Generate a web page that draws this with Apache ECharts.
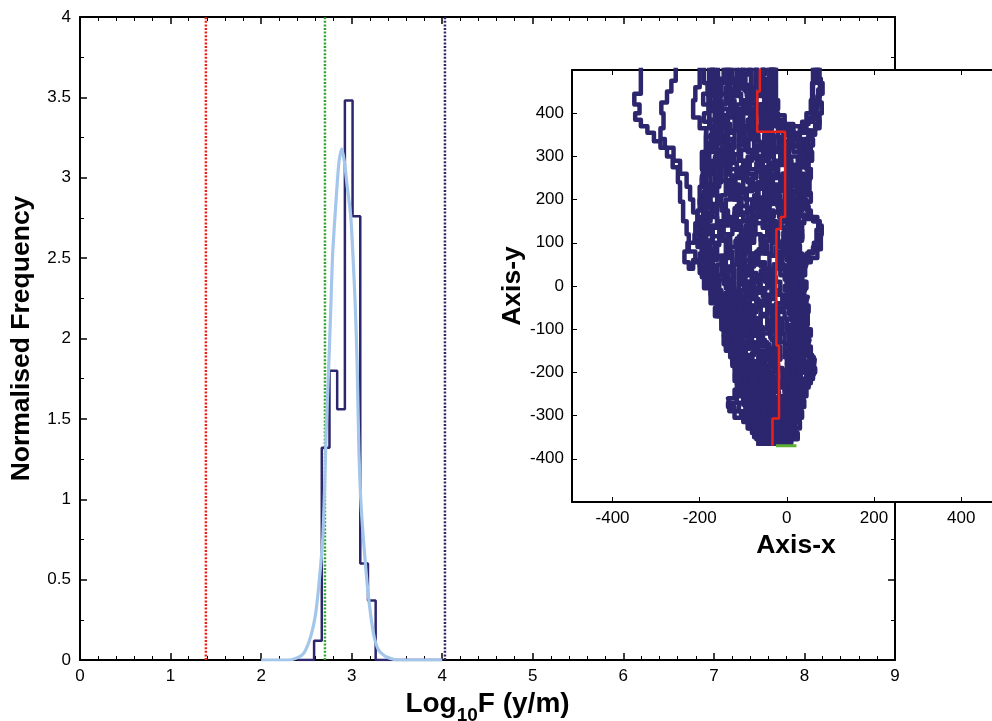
<!DOCTYPE html>
<html><head><meta charset="utf-8">
<script src="https://cdn.jsdelivr.net/npm/echarts@6/dist/echarts.min.js"></script>
<style>html,body{margin:0;padding:0;background:#fff}#c{width:992px;height:721px}</style>
</head><body><div id="c"></div>
<script>
// ---- main histogram data ----
const binEdges = [2.585, 2.67, 2.755, 2.84, 2.925, 3.01, 3.095, 3.18, 3.265];
const binValues = [0.12, 1.32, 1.80, 1.56, 3.48, 2.76, 0.60, 0.37];
const histZeroRange = [2.4, 4.0];
const fitCurve = [[2.0,0],[2.3,0],[2.38,0.01],[2.45,0.03],[2.49,0.06],[2.55,0.15],[2.6,0.28],[2.64,0.48],[2.68,0.75],[2.7,1.05],[2.72,1.45],[2.745,1.8],[2.77,2.2],[2.79,2.53],[2.83,2.88],[2.86,3.1],[2.89,3.18],[2.92,3.1],[2.95,2.95],[2.99,2.76],[3.02,2.45],[3.04,2.2],[3.06,1.85],[3.08,1.3],[3.1,1.0],[3.13,0.75],[3.17,0.48],[3.21,0.28],[3.25,0.14],[3.3,0.06],[3.38,0.02],[3.5,0],[4.0,0]];
const refLineX = [1.39, 2.705, 4.03];
const xTicksMain = [0, 9, 1];
const yTicksMain = [0, 4, 0.5];

// ---- inset random-walk paths (corner points, step: start) ----
const walkPaths = [
 [[-45,-370],[-55,-345],[-70,-320],[-90,-290],[-100,-250],[-115,-215],[-125,-175],[-140,-140],[-150,-100],[-160,-70],[-175,-40],[-190,-5],[-200,30],[-210,55],[-225,80],[-230,120],[-238,150],[-245,195],[-250,240],[-262,275],[-275,300],[-290,320],[-305,335],[-320,355],[-335,370],[-348,385],[-338,400],[-350,420],[-335,445],[-337,520]],
 [[-30,-370],[-50,-340],[-65,-300],[-85,-260],[-100,-220],[-115,-180],[-128,-130],[-140,-90],[-155,-50],[-170,-10],[-185,20],[-195,60],[-200,100],[-205,140],[-215,170],[-222,200],[-230,230],[-245,260],[-260,290],[-280,320],[-290,340],[-283,365],[-288,400],[-275,425],[-265,450],[-255,475],[-253,520]],
 [[-20,-370],[-35,-330],[-55,-290],[-75,-250],[-90,-210],[-110,-170],[-120,-130],[-135,-90],[-150,-50],[-165,-15],[-178,20],[-190,60],[-185,110],[-192,160],[-186,210],[-193,260],[-186,300],[-185,345],[-200,365],[-215,390],[-210,430],[-200,460],[-202,520]],
 [[-60,-370],[-75,-350],[-90,-330],[-105,-300],[-120,-290],[-135,-280],[-115,-270],[-105,-240],[-115,-210],[-125,-180],[-120,-150],[-135,-120],[-145,-90],[-150,-60],[-165,-30],[-180,0],[-175,40],[-190,80],[-180,120],[-190,170],[-175,220],[-183,270],[-170,320],[-178,370],[-165,420],[-170,470],[-165,520]],
 [[-50,-370],[-65,-340],[-80,-300],[-90,-270],[-100,-230],[-95,-200],[-110,-170],[-115,-130],[-125,-100],[-140,-70],[-150,-40],[-160,-10],[-170,20],[-160,60],[-172,100],[-160,140],[-175,180],[-165,230],[-178,280],[-160,330],[-150,380],[-155,430],[-145,480],[-150,520]],
 [[-40,-370],[-55,-330],[-75,-310],[-85,-280],[-75,-250],[-90,-220],[-100,-190],[-95,-160],[-110,-130],[-120,-100],[-130,-60],[-125,-30],[-140,0],[-150,30],[-140,70],[-155,110],[-145,150],[-160,190],[-150,240],[-162,290],[-140,330],[-148,370],[-130,410],[-135,460],[-125,520]],
 [[-35,-370],[-45,-340],[-60,-310],[-70,-270],[-85,-240],[-80,-200],[-95,-170],[-105,-140],[-100,-110],[-115,-80],[-110,-50],[-120,-20],[-135,10],[-125,45],[-135,80],[-125,120],[-140,160],[-130,200],[-140,245],[-125,285],[-135,325],[-115,360],[-125,400],[-110,440],[-115,480],[-105,520]],
 [[-25,-370],[-40,-350],[-50,-320],[-55,-280],[-70,-250],[-65,-220],[-80,-190],[-75,-160],[-90,-130],[-85,-100],[-100,-70],[-95,-40],[-110,-10],[-100,20],[-115,50],[-105,90],[-120,130],[-108,170],[-118,210],[-100,250],[-110,290],[-95,330],[-105,370],[-90,410],[-95,450],[-85,490],[-88,520]],
 [[-15,-370],[-25,-340],[-35,-300],[-45,-270],[-40,-240],[-55,-210],[-50,-180],[-65,-150],[-60,-120],[-75,-90],[-70,-60],[-85,-30],[-80,0],[-95,30],[-85,60],[-95,100],[-80,140],[-92,180],[-78,220],[-90,260],[-75,300],[-85,340],[-70,380],[-80,420],[-72,460],[-78,520]],
 [[-10,-370],[0,-340],[10,-310],[5,-280],[15,-250],[25,-230],[20,-200],[30,-170],[25,-140],[35,-110],[28,-80],[38,-50],[25,-20],[30,10],[20,40],[28,80],[15,120],[25,160],[10,200],[20,240],[5,280],[15,320],[-5,350],[-25,380],[-30,420],[-35,460],[-32,520]],
 [[-5,-370],[5,-330],[15,-300],[25,-270],[35,-240],[45,-215],[60,-200],[58,-180],[45,-160],[40,-130],[30,-100],[40,-70],[35,-40],[25,-10],[30,20],[40,45],[55,55],[70,65],[78,85],[80,110],[72,135],[60,150],[45,155],[30,165],[40,200],[35,230],[50,260],[45,300],[30,330],[15,350],[-10,365],[-28,385],[-35,420],[-30,460],[-38,520]],
 [[-20,-370],[-10,-345],[0,-320],[10,-290],[5,-260],[15,-230],[10,-200],[25,-175],[20,-145],[30,-115],[15,-85],[25,-55],[10,-25],[18,5],[8,35],[15,70],[5,110],[20,140],[10,180],[25,215],[15,250],[35,280],[50,310],[55,345],[40,360],[50,375],[60,390],[70,410],[76,440],[70,470],[74,520]],
 [[-30,-370],[-20,-340],[-10,-300],[0,-270],[-5,-240],[5,-210],[0,-180],[10,-150],[5,-120],[15,-90],[5,-60],[15,-30],[0,0],[10,30],[0,60],[10,95],[0,130],[12,170],[0,210],[10,250],[-5,290],[5,330],[25,345],[45,355],[60,380],[65,400],[58,430],[65,470],[62,520]],
 [[-45,-370],[-35,-340],[-45,-310],[-35,-280],[-50,-250],[-40,-220],[-55,-190],[-45,-160],[-60,-130],[-45,-100],[-60,-70],[-50,-40],[-65,-10],[-55,20],[-70,50],[-60,80],[-72,120],[-55,160],[-68,200],[-55,240],[-68,280],[-50,320],[-60,360],[-45,400],[-55,440],[-40,480],[-45,520]],
 [[-55,-370],[-45,-350],[-30,-320],[-20,-290],[-30,-260],[-20,-230],[-30,-200],[-15,-170],[-25,-140],[-10,-110],[-20,-80],[-5,-50],[-15,-20],[-30,10],[-20,40],[-35,70],[-25,110],[-40,150],[-30,190],[-42,230],[-30,270],[-45,310],[-35,350],[-50,390],[-40,430],[-55,470],[-50,520]],
 [[-65,-370],[-80,-340],[-70,-310],[-85,-280],[-75,-250],[-90,-220],[-80,-190],[-95,-160],[-85,-130],[-100,-100],[-90,-70],[-105,-40],[-95,-10],[-110,20],[-100,50],[-115,80],[-105,110],[-120,145],[-110,180],[-125,215],[-115,250],[-130,285],[-120,320],[-135,355],[-125,390],[-140,425],[-130,460],[-140,520]],
 [[-35,-370],[-25,-350],[-40,-320],[-30,-290],[-45,-260],[-35,-230],[-50,-200],[-40,-170],[-55,-140],[-40,-110],[-30,-80],[-45,-50],[-35,-20],[-50,10],[-40,40],[-50,75],[-40,105],[-50,140],[-40,175],[-52,210],[-42,250],[-55,290],[-42,330],[-55,370],[-45,410],[-60,450],[-50,490],[-60,520]],
 [[-10,-370],[-20,-340],[-5,-315],[-15,-285],[0,-255],[-10,-225],[5,-195],[-5,-165],[10,-135],[0,-105],[12,-75],[0,-45],[10,-15],[-5,15],[5,45],[-10,75],[0,105],[-15,135],[-5,165],[-20,195],[-10,225],[-25,255],[-15,285],[-28,315],[-20,345],[-30,375],[-25,420],[-30,460],[-28,520]],
 [[-15,-370],[0,-350],[15,-330],[10,-300],[25,-275],[20,-250],[35,-230],[50,-215],[62,-205],[64,-185],[55,-170],[42,-150],[45,-120],[35,-90],[40,-60],[30,-30],[35,0],[22,30],[30,60],[45,70],[60,75],[75,90],[80,120],[75,140],[62,150],[50,160],[40,185],[45,220],[30,250],[40,290],[25,320],[30,350],[15,370],[-5,375],[-30,395],[-35,440],[-32,520]],
 [[-50,-370],[-70,-355],[-85,-330],[-100,-315],[-120,-305],[-132,-290],[-135,-270],[-120,-260],[-110,-240],[-100,-215],[-112,-190],[-105,-165],[-120,-140],[-110,-115],[-128,-85],[-118,-55],[-135,-25],[-125,5],[-145,35],[-130,70],[-148,105],[-135,140],[-150,175],[-140,210],[-155,245],[-145,280],[-160,315],[-150,350],[-165,385],[-155,420],[-165,455],[-160,520]],
 [[-40,-370],[-30,-345],[-50,-320],[-60,-290],[-50,-260],[-65,-235],[-75,-205],[-65,-175],[-80,-145],[-95,-115],[-85,-85],[-100,-55],[-120,-30],[-140,-5],[-160,15],[-180,30],[-200,45],[-215,60],[-225,40],[-235,55],[-228,80],[-212,100],[-200,120],[-190,150],[-200,190],[-185,230],[-195,270],[-175,310],[-165,350],[-160,400],[-172,440],[-168,520]],
 [[-25,-370],[-15,-335],[-28,-305],[-18,-275],[-30,-245],[-20,-210],[-35,-180],[-25,-150],[-38,-120],[-25,-90],[-40,-60],[-28,-30],[-40,0],[-30,30],[-10,50],[5,80],[20,100],[10,130],[-5,160],[-18,190],[-8,220],[-20,250],[-5,280],[-18,310],[-8,340],[-20,370],[-30,400],[-40,440],[-35,470],[-38,520]],
 [[-5,-370],[10,-340],[0,-310],[18,-280],[8,-250],[22,-220],[12,-190],[28,-160],[18,-130],[32,-100],[20,-70],[30,-40],[15,-10],[25,20],[12,50],[22,90],[35,110],[28,140],[15,170],[35,190],[52,210],[55,240],[48,270],[55,300],[40,320],[50,340],[35,360],[45,380],[55,400],[60,430],[58,520]],
 [[-30,-370],[-50,-355],[-60,-330],[-45,-315],[-60,-300],[-75,-325],[-90,-300],[-80,-270],[-95,-245],[-85,-215],[-70,-230],[-60,-200],[-75,-175],[-90,-190],[-100,-160],[-90,-130],[-110,-110],[-100,-80],[-120,-60],[-110,-35],[-130,-15],[-120,15],[-140,40],[-125,65],[-110,50],[-100,80],[-118,105],[-130,90],[-145,120],[-130,150],[-115,140],[-105,175],[-125,200],[-115,230],[-100,215],[-95,250],[-115,270],[-130,255],[-140,290],[-125,320],[-110,305],[-100,340],[-120,365],[-110,395],[-130,410],[-120,445],[-135,470],[-130,520]],
 [[-20,-370],[-5,-350],[-15,-325],[0,-305],[-10,-280],[5,-260],[15,-285],[25,-260],[10,-240],[20,-215],[35,-200],[25,-180],[40,-165],[30,-140],[15,-155],[5,-130],[20,-105],[35,-120],[45,-95],[30,-75],[15,-90],[5,-65],[20,-40],[35,-55],[40,-25],[25,-5],[10,-20],[0,10],[15,30],[30,15],[35,45],[20,65],[5,50],[-5,80],[10,100],[25,85],[30,120],[15,145],[0,125],[-10,155],[5,180],[20,165],[30,195],[15,220],[0,205],[-10,235],[5,260],[20,245],[25,280],[10,300],[-5,285],[-15,315],[0,335],[10,320],[15,350],[-10,360],[-40,375],[-50,400],[-40,430],[-55,460],[-48,520]],
 [[-45,-370],[-60,-350],[-50,-330],[-65,-315],[-55,-290],[-70,-270],[-60,-245],[-75,-225],[-65,-200],[-80,-180],[-70,-155],[-85,-135],[-75,-110],[-90,-90],[-80,-65],[-95,-45],[-85,-20],[-100,0],[-90,25],[-105,45],[-95,70],[-110,90],[-100,115],[-85,100],[-75,130],[-90,155],[-80,180],[-95,200],[-85,225],[-100,245],[-90,270],[-105,290],[-95,315],[-110,335],[-100,360],[-115,380],[-100,400],[-90,430],[-100,455],[-95,520]],
 [[-10,-370],[5,-355],[20,-340],[15,-310],[30,-295],[25,-265],[40,-250],[50,-235],[45,-210],[30,-190],[20,-165],[35,-150],[45,-130],[38,-110],[48,-90],[40,-65],[25,-50],[35,-30],[42,-10],[30,10],[38,30],[25,50],[35,70],[50,60],[62,80],[68,100],[75,130],[70,150],[55,160],[45,175],[55,195],[48,215],[38,235],[48,255],[40,275],[52,295],[45,315],[35,330],[20,340],[5,355],[-15,365],[-30,380],[-20,410],[-40,430],[-25,460],[-30,520]],
 [[-55,-370],[-70,-340],[-60,-320],[-80,-300],[-95,-285],[-85,-265],[-100,-250],[-110,-230],[-100,-205],[-115,-185],[-130,-165],[-120,-145],[-135,-125],[-125,-100],[-140,-80],[-155,-60],[-145,-40],[-160,-20],[-175,-5],[-165,20],[-180,40],[-170,60],[-185,85],[-200,100],[-190,130],[-205,150],[-195,175],[-180,190],[-170,215],[-185,235],[-170,260],[-160,290],[-175,310],[-160,335],[-150,360],[-160,390],[-175,410],[-180,440],[-170,470],[-175,520]],
 [[-35,-370],[-20,-355],[-35,-335],[-20,-320],[-30,-300],[-45,-285],[-35,-265],[-20,-245],[-35,-225],[-45,-205],[-30,-185],[-40,-165],[-25,-145],[-35,-125],[-20,-105],[-35,-85],[-25,-65],[-40,-45],[-55,-25],[-45,-5],[-60,15],[-50,35],[-65,55],[-45,75],[-55,95],[-40,115],[-55,135],[-45,155],[-60,175],[-45,195],[-35,215],[-50,235],[-40,255],[-55,275],[-40,295],[-30,315],[-45,335],[-35,355],[-45,375],[-60,395],[-70,420],[-60,445],[-68,470],[-65,520]],
 [[-20,-370],[-5,-345],[5,-320],[-5,-295],[5,-270],[-5,-245],[10,-225],[0,-200],[15,-180],[5,-160],[20,-140],[10,-120],[25,-100],[10,-80],[20,-60],[5,-40],[15,-20],[0,0],[15,20],[5,40],[18,60],[8,80],[20,100],[30,125],[20,150],[35,175],[25,200],[40,225],[30,250],[42,275],[32,300],[45,325],[55,340],[65,360],[75,375],[80,400],[72,425],[78,455],[70,480],[72,520]],
 [[-40,-370],[-55,-340],[-70,-315],[-90,-300],[-100,-275],[-90,-255],[-105,-235],[-95,-210],[-110,-190],[-100,-165],[-115,-145],[-105,-120],[-120,-100],[-110,-75],[-125,-55],[-140,-40],[-130,-15],[-145,5],[-160,25],[-150,50],[-165,70],[-155,95],[-170,115],[-160,135],[-172,160],[-158,185],[-168,210],[-155,230],[-165,255],[-150,280],[-160,305],[-145,330],[-155,350],[-140,375],[-150,395],[-140,420],[-152,445],[-140,470],[-148,520]],
 [[-30,-370],[-40,-345],[-25,-325],[-40,-305],[-55,-290],[-65,-265],[-55,-240],[-70,-220],[-60,-195],[-50,-175],[-65,-155],[-55,-135],[-70,-115],[-60,-95],[-75,-75],[-65,-50],[-75,-30],[-60,-15],[-70,10],[-80,30],[-70,55],[-85,75],[-75,100],[-90,120],[-80,145],[-65,165],[-75,185],[-65,210],[-80,230],[-70,250],[-85,270],[-75,295],[-88,315],[-78,340],[-90,360],[-80,385],[-95,400],[-85,430],[-100,460],[-92,520]],
 [[-5,-370],[10,-360],[20,-345],[10,-330],[22,-315],[12,-295],[25,-280],[15,-260],[28,-245],[18,-225],[32,-210],[22,-190],[40,-180],[50,-195],[62,-190],[58,-170],[48,-160],[52,-140],[40,-125],[45,-105],[32,-85],[42,-65],[28,-45],[38,-25],[22,-5],[30,15],[18,35],[28,55],[12,70],[20,90],[8,110],[15,130],[0,150],[10,175],[-5,195],[5,215],[-10,240],[0,260],[-12,285],[-2,305],[-15,325],[-5,345],[-20,358],[-35,370],[-45,390],[-35,410],[-48,440],[-40,470],[-45,520]],
 [[-60,-370],[-45,-355],[-60,-340],[-75,-330],[-65,-310],[-80,-295],[-70,-275],[-85,-260],[-100,-270],[-110,-250],[-95,-230],[-105,-210],[-90,-195],[-100,-175],[-115,-160],[-105,-140],[-120,-125],[-135,-105],[-125,-85],[-140,-70],[-130,-50],[-145,-30],[-160,-45],[-170,-25],[-155,-5],[-170,15],[-185,5],[-195,25],[-180,45],[-195,65],[-180,85],[-170,105],[-185,125],[-175,150],[-165,170],[-180,190],[-170,210],[-160,230],[-150,255],[-165,275],[-150,300],[-140,320],[-155,340],[-165,365],[-150,385],[-160,410],[-150,440],[-158,470],[-150,520]],
 [[-25,-370],[-40,-360],[-30,-340],[-45,-325],[-35,-305],[-50,-290],[-40,-270],[-55,-255],[-45,-235],[-60,-220],[-50,-200],[-65,-185],[-55,-165],[-70,-150],[-60,-130],[-75,-115],[-65,-95],[-80,-80],[-70,-60],[-85,-45],[-75,-25],[-90,-10],[-80,10],[-95,25],[-85,45],[-100,60],[-90,80],[-105,95],[-95,115],[-110,130],[-100,150],[-115,165],[-105,185],[-120,200],[-110,220],[-125,235],[-115,255],[-130,270],[-120,290],[-135,305],[-125,325],[-140,340],[-130,360],[-145,375],[-135,395],[-120,410],[-130,430],[-118,455],[-125,480],[-120,520]],
 [[-15,-370],[-30,-355],[-20,-335],[-35,-320],[-25,-300],[-10,-290],[-20,-270],[-5,-255],[-15,-235],[0,-220],[-10,-200],[-25,-190],[-15,-170],[-30,-160],[-20,-140],[-5,-130],[-15,-110],[-30,-100],[-20,-80],[-35,-70],[-25,-50],[-10,-40],[-20,-20],[-35,-10],[-25,10],[-40,20],[-30,40],[-15,50],[-25,70],[-10,80],[-20,100],[-35,110],[-25,130],[-40,140],[-30,160],[-15,170],[-25,190],[-40,200],[-30,220],[-15,230],[-25,250],[-40,260],[-30,280],[-15,290],[-25,310],[-40,320],[-30,340],[-45,350],[-35,365],[-50,380],[-60,400],[-50,420],[-65,440],[-55,460],[-70,480],[-60,520]],
 [[-5,-370],[10,-350],[0,-335],[15,-320],[30,-310],[20,-290],[35,-280],[25,-260],[40,-245],[30,-225],[45,-215],[55,-225],[60,-205],[50,-190],[40,-175],[50,-160],[35,-145],[45,-130],[55,-115],[45,-100],[30,-90],[40,-75],[50,-60],[40,-45],[25,-35],[35,-20],[45,-5],[35,10],[20,20],[30,35],[40,50],[30,65],[15,75],[25,90],[35,105],[25,120],[10,130],[20,145],[30,160],[20,175],[5,185],[15,200],[28,215],[18,230],[5,240],[15,255],[30,270],[40,285],[30,300],[15,310],[25,325],[10,340],[-5,352],[-20,362],[-30,375],[-40,395],[-30,415],[-45,440],[-35,465],[-42,520]],
 [[-40,-370],[-55,-360],[-65,-340],[-80,-320],[-95,-305],[-110,-290],[-100,-270],[-115,-255],[-105,-235],[-120,-220],[-110,-200],[-125,-185],[-115,-165],[-130,-150],[-145,-135],[-135,-115],[-150,-100],[-140,-80],[-155,-65],[-145,-45],[-160,-30],[-175,-20],[-165,0],[-180,10],[-195,20],[-185,40],[-200,55],[-190,75],[-205,90],[-195,110],[-210,125],[-200,145],[-190,160],[-200,180],[-190,200],[-180,215],[-195,235],[-185,255],[-175,270],[-190,290],[-180,310],[-170,325],[-185,345],[-175,365],[-190,380],[-180,400],[-192,420],[-182,445],[-190,470],[-185,520]],
 [[-50,-370],[-60,-355],[-50,-335],[-65,-320],[-55,-300],[-70,-285],[-60,-265],[-75,-250],[-85,-235],[-75,-215],[-90,-200],[-80,-180],[-95,-165],[-85,-145],[-100,-130],[-90,-110],[-105,-95],[-95,-75],[-110,-60],[-100,-40],[-85,-25],[-95,-5],[-80,10],[-90,30],[-75,45],[-85,65],[-100,80],[-90,100],[-75,115],[-85,135],[-100,150],[-90,170],[-105,185],[-95,205],[-80,220],[-90,240],[-105,255],[-95,275],[-80,290],[-90,310],[-105,325],[-95,345],[-110,360],[-100,380],[-115,395],[-105,420],[-115,445],[-108,470],[-112,520]],
 [[-20,-370],[-5,-360],[10,-345],[0,-325],[15,-310],[5,-290],[20,-275],[10,-255],[25,-240],[15,-220],[30,-205],[20,-185],[35,-170],[25,-150],[40,-135],[30,-115],[45,-100],[35,-80],[20,-65],[30,-45],[15,-30],[25,-10],[10,5],[20,25],[5,40],[15,60],[30,75],[20,95],[35,110],[25,130],[40,145],[30,165],[45,180],[35,200],[50,215],[40,235],[55,250],[45,270],[58,290],[48,310],[60,325],[50,340],[65,350],[75,365],[68,385],[80,400],[75,420],[82,445],[75,470],[78,520]],
 [[-65,-370],[-55,-360],[-70,-350],[-60,-335],[-75,-325],[-65,-310],[-50,-300],[-60,-285],[-45,-275],[-55,-260],[-40,-250],[-50,-235],[-35,-225],[-45,-210],[-30,-200],[-40,-185],[-25,-175],[-35,-160],[-20,-150],[-30,-135],[-15,-125],[-25,-110],[-10,-100],[-20,-85],[-5,-75],[-15,-60],[0,-50],[-10,-35],[5,-25],[-5,-10],[10,0],[0,15],[-15,25],[-5,40],[-20,50],[-10,65],[-25,75],[-15,90],[-30,100],[-20,115],[-35,125],[-25,140],[-40,150],[-30,165],[-45,175],[-35,190],[-50,200],[-40,215],[-55,225],[-45,240],[-60,250],[-50,265],[-65,275],[-55,290],[-70,300],[-60,315],[-75,325],[-65,340],[-80,350],[-70,365],[-85,375],[-75,390],[-90,400],[-80,420],[-92,440],[-82,465],[-90,490],[-85,520]],
 [[-10,-370],[0,-355],[-10,-340],[5,-330],[-5,-315],[10,-300],[25,-305],[30,-290],[15,-280],[20,-265],[35,-255],[40,-240],[25,-230],[30,-210],[45,-200],[50,-185],[35,-175],[40,-160],[25,-150],[30,-135],[45,-125],[50,-110],[35,-100],[40,-85],[25,-75],[30,-60],[45,-50],[48,-35],[32,-25],[38,-10],[22,0],[28,15],[42,25],[45,40],[30,50],[35,65],[20,75],[25,90],[10,100],[15,115],[0,125],[5,140],[-10,150],[-5,165],[-20,175],[-15,190],[-30,200],[-25,215],[-40,225],[-35,240],[-50,250],[-45,265],[-60,275],[-55,290],[-70,300],[-62,320],[-75,335],[-68,355],[-80,370],[-72,390],[-85,410],[-75,435],[-82,460],[-75,520]],
 [[-45,-370],[-60,-345],[-75,-330],[-90,-315],[-80,-295],[-95,-280],[-85,-260],[-100,-245],[-115,-230],[-105,-210],[-120,-195],[-110,-175],[-125,-160],[-140,-150],[-130,-130],[-145,-115],[-135,-95],[-150,-80],[-165,-70],[-155,-50],[-170,-35],[-160,-15],[-175,0],[-165,20],[-180,35],[-170,55],[-185,70],[-175,90],[-190,105],[-180,125],[-195,140],[-185,160],[-175,180],[-190,195],[-180,215],[-195,230],[-185,250],[-175,265],[-190,280],[-180,300],[-170,315],[-160,330],[-172,350],[-162,370],[-178,385],[-168,405],[-180,425],[-170,450],[-178,475],[-172,520]],
 [[-35,-370],[-45,-350],[-30,-335],[-40,-315],[-55,-305],[-45,-285],[-60,-275],[-50,-255],[-35,-245],[-45,-225],[-60,-215],[-50,-195],[-65,-185],[-55,-165],[-40,-155],[-50,-135],[-65,-125],[-55,-105],[-70,-95],[-60,-75],[-45,-65],[-55,-45],[-70,-35],[-60,-15],[-75,-5],[-65,15],[-50,25],[-60,45],[-75,55],[-65,75],[-50,85],[-60,105],[-45,115],[-55,135],[-70,145],[-60,165],[-75,175],[-65,195],[-50,205],[-60,225],[-45,235],[-55,255],[-70,265],[-60,285],[-45,295],[-55,315],[-40,325],[-50,345],[-35,355],[-45,375],[-30,385],[-40,405],[-28,420],[-38,445],[-28,470],[-35,520]],
 [[-5,-370],[10,-365],[25,-355],[15,-340],[30,-330],[20,-315],[35,-305],[25,-290],[40,-280],[30,-265],[45,-255],[35,-240],[50,-230],[60,-215],[65,-200],[55,-190],[62,-175],[50,-165],[55,-150],[42,-140],[48,-125],[35,-115],[42,-100],[30,-90],[38,-75],[25,-65],[32,-50],[20,-40],[28,-25],[15,-15],[22,0],[10,10],[18,25],[5,35],[12,50],[0,60],[8,75],[-5,85],[5,100],[-8,110],[0,125],[-12,135],[-5,150],[-18,160],[-10,175],[-22,185],[-15,200],[-28,210],[-20,225],[-32,235],[-25,250],[-38,260],[-30,275],[-42,285],[-35,300],[-48,310],[-40,325],[-52,335],[-45,350],[-55,365],[-48,380],[-60,395],[-52,420],[-62,445],[-55,470],[-58,520]]
];
const redPath = [[-33,-370],[-33,-307],[-18,-307],[-18,-138],[-24,-138],[-24,132],[-14,132],[-14,160],[-4,160],[-4,357],[-68,357],[-68,450],[-62,450],[-62,520]];
const sourceLine = [[-25,-370],[22,-370]];
const insetTicks = [-400, -200, 0, 200, 400];
const insetXRange = [-493, 535];
const insetYRange = [-500, 500, 100];

// ---- build ----
const NAVY = '#2c266e';
const histData = [[histZeroRange[0], 0], [binEdges[0], 0]];
for (let i = 0; i < binValues.length; i++) {
  histData.push([binEdges[i], binValues[i]]);
  histData.push([binEdges[i + 1], binValues[i]]);
}
histData.push([binEdges[binEdges.length - 1], 0]);
histData.push([histZeroRange[1], 0]);

const FONT = "'Liberation Sans', Arial, sans-serif";
const refColors = ['#e8221b', '#2fa52c', NAVY];
const TITLE = { fontSize: 26.5, fontWeight: 'bold', fontFamily: FONT, color: '#000' };

function mainX(pos, show) {
  return {
    type: 'value', gridIndex: 0, position: pos, min: xTicksMain[0], max: xTicksMain[1], interval: xTicksMain[2],
    axisLine: { show: true, onZero: false, lineStyle: { color: '#000', width: 2 } },
    axisTick: { show: true, inside: true, length: 7, lineStyle: { color: '#000', width: 1.5 } },
    minorTick: { show: true, splitNumber: 5, length: 4, lineStyle: { color: '#000', width: 1 } },
    axisLabel: { show: show, color: '#000', fontSize: 17, fontFamily: FONT, margin: 8 },
    splitLine: { show: false }
  };
}
function mainY(pos, show) {
  return {
    type: 'value', gridIndex: 0, position: pos, min: yTicksMain[0], max: yTicksMain[1], interval: yTicksMain[2],
    axisLine: { show: true, onZero: false, lineStyle: { color: '#000', width: 2 } },
    axisTick: { show: true, inside: true, length: 7, lineStyle: { color: '#000', width: 1.5 } },
    minorTick: { show: true, splitNumber: 2, length: 4, lineStyle: { color: '#000', width: 1 } },
    axisLabel: { show: show, color: '#000', fontSize: 17, fontFamily: FONT, margin: 9 },
    splitLine: { show: false }
  };
}

const xAxes = [
  Object.assign(mainX('bottom', true), {
    name: '{a|Log}{b|10}{a|F (y/m)}', nameLocation: 'middle', nameGap: 29,
    nameTextStyle: { rich: {
      a: { fontSize: 28, fontWeight: 'bold', fontFamily: FONT, color: '#000', lineHeight: 32, verticalAlign: 'top' },
      b: { fontSize: 19, fontWeight: 'bold', fontFamily: FONT, color: '#000', lineHeight: 32, verticalAlign: 'top', padding: [16, 0, 0, 0] }
    } }
  }),
  mainX('top', false),
  {
    type: 'value', gridIndex: 1, position: 'bottom', min: insetXRange[0], max: insetXRange[1], z: 11,
    axisLine: { show: true, onZero: false, lineStyle: { color: '#000', width: 2 } },
    axisTick: { show: true, inside: true, length: 5, customValues: insetTicks, lineStyle: { color: '#000', width: 1 } },
    axisLabel: { show: true, customValues: insetTicks, color: '#000', fontSize: 17, fontFamily: FONT, margin: 8 },
    splitLine: { show: false },
    name: 'Axis-x', nameLocation: 'middle', nameGap: 29,
    nameTextStyle: TITLE
  },
  {
    type: 'value', gridIndex: 1, position: 'top', min: insetXRange[0], max: insetXRange[1], z: 11,
    axisLine: { show: true, onZero: false, lineStyle: { color: '#000', width: 2 } },
    axisTick: { show: true, inside: true, length: 5, customValues: insetTicks, lineStyle: { color: '#000', width: 1 } },
    axisLabel: { show: false }, splitLine: { show: false }
  }
];
const yAxes = [
  Object.assign(mainY('left', true), {
    name: 'Normalised Frequency', nameLocation: 'middle', nameGap: 45,
    nameTextStyle: TITLE
  }),
  mainY('right', false),
  {
    type: 'value', gridIndex: 1, position: 'left', min: insetYRange[0], max: insetYRange[1], interval: insetYRange[2], z: 11,
    axisLine: { show: true, onZero: false, lineStyle: { color: '#000', width: 2 } },
    axisTick: { show: true, inside: true, length: 5, lineStyle: { color: '#000', width: 1 } },
    axisLabel: { show: true, showMinLabel: false, showMaxLabel: false, color: '#000', fontSize: 17, fontFamily: FONT, margin: 8 },
    splitLine: { show: false },
    name: 'Axis-y', nameLocation: 'middle', nameGap: 42,
    nameTextStyle: TITLE
  }
];

const series = [];
refLineX.forEach((x, i) => {
  series.push({ type: 'line', xAxisIndex: 0, yAxisIndex: 0, data: [[x, 0], [x, 4]], showSymbol: false, silent: true, z: 2,
    lineStyle: { color: refColors[i], width: 2.5, type: [2, 1.6] } });
});
series.push({ type: 'line', xAxisIndex: 0, yAxisIndex: 0, data: histData, showSymbol: false, silent: true, z: 3,
  lineStyle: { color: NAVY, width: 2.5 } });
series.push({ type: 'line', xAxisIndex: 0, yAxisIndex: 0, data: fitCurve, showSymbol: false, silent: true, smooth: 0.2, z: 4,
  lineStyle: { color: '#a3c6ea', width: 3.2 } });
walkPaths.forEach(p => {
  series.push({ type: 'line', xAxisIndex: 2, yAxisIndex: 2, data: p, step: 'start', showSymbol: false, silent: true, z: 12,
    lineStyle: { color: NAVY, width: 4.5, join: 'round' } });
});
series.push({ type: 'line', xAxisIndex: 2, yAxisIndex: 2, data: redPath, showSymbol: false, silent: true, z: 13,
  lineStyle: { color: '#e8221b', width: 2.5 } });
series.push({ type: 'line', xAxisIndex: 2, yAxisIndex: 2, data: sourceLine, showSymbol: false, silent: true, z: 13,
  lineStyle: { color: '#5db132', width: 3 } });

const chart = echarts.init(document.getElementById('c'), null, { renderer: 'canvas' });
chart.setOption({
  animation: false,
  backgroundColor: '#fff',
  grid: [
    { left: 80, top: 17, width: 815, height: 643, show: false, outerBoundsMode: 'none', containLabel: false },
    { left: 572, top: 70, width: 448, height: 432, show: true, backgroundColor: '#fff', borderWidth: 0, z: 10, outerBoundsMode: 'none', containLabel: false }
  ],
  xAxis: xAxes,
  yAxis: yAxes,
  series: series
});
</script></body></html>
